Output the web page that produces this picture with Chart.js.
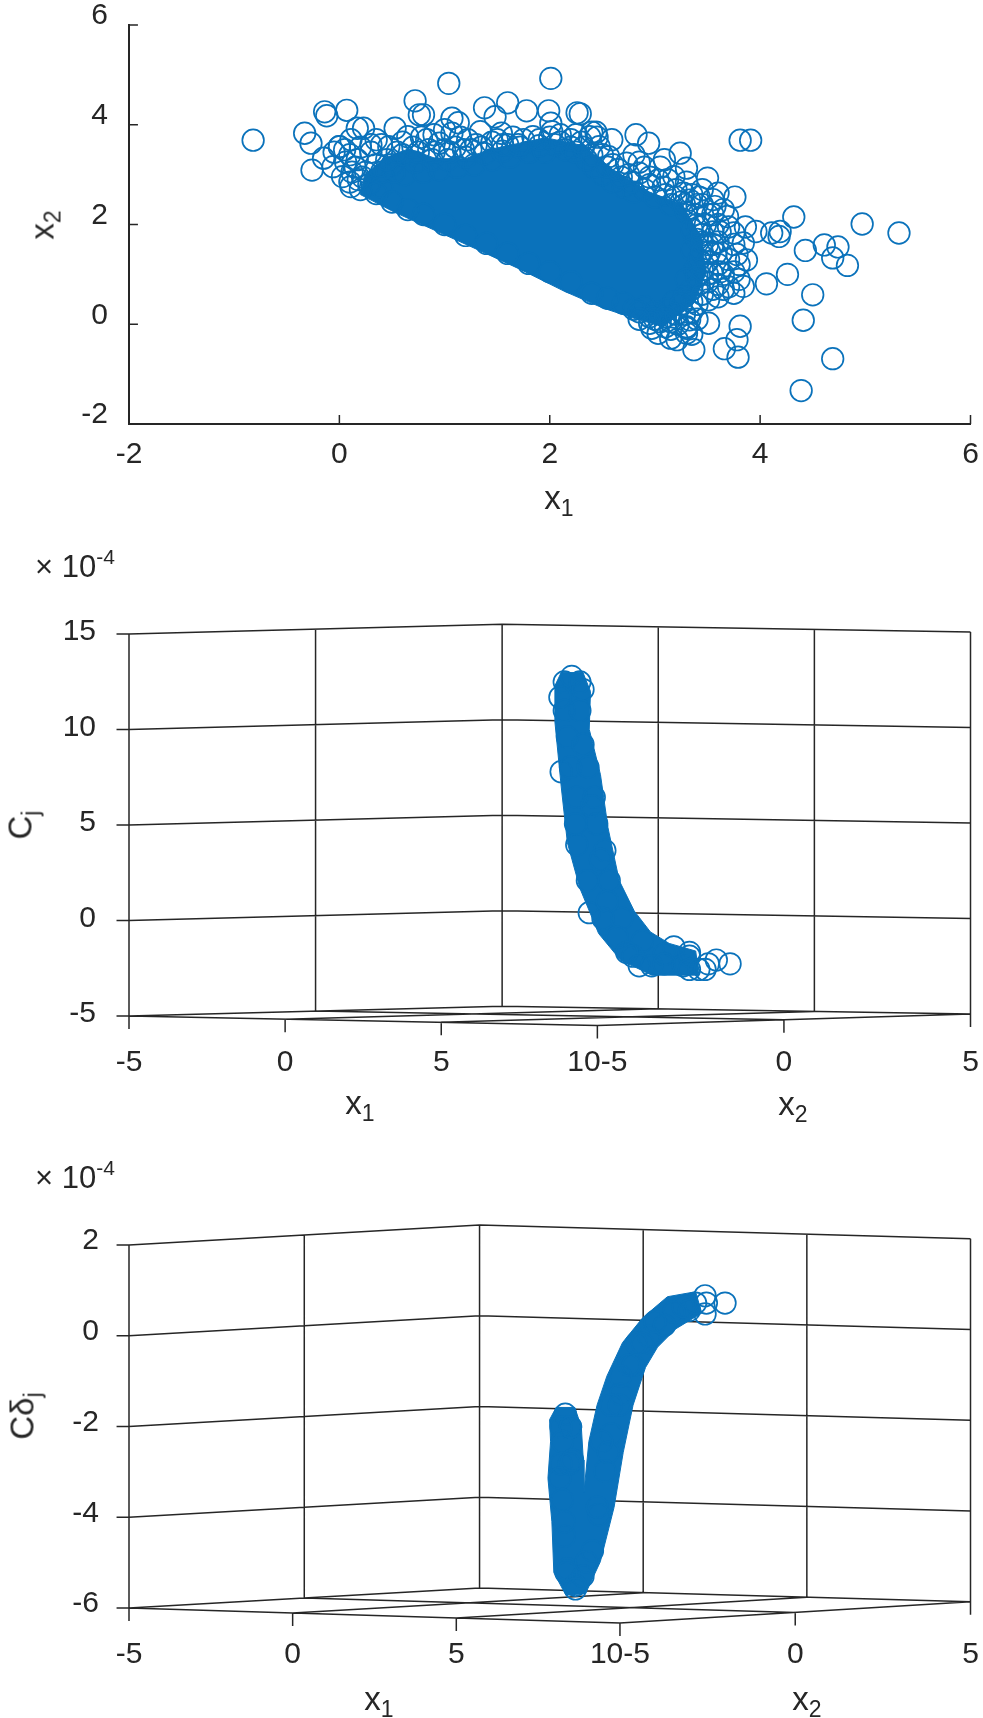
<!DOCTYPE html>
<html><head><meta charset="utf-8">
<style>
html,body{margin:0;padding:0;background:#fff;width:983px;height:1718px;overflow:hidden}
canvas{position:absolute;left:0}
.t{position:absolute;font:33px "Liberation Sans",Arial,sans-serif;color:#262626;white-space:nowrap;line-height:1;transform:translate(-50%,-50%)}
.t sub{font-size:23px;vertical-align:baseline;position:relative;top:7px}
.t sup{font-size:21px;vertical-align:baseline;position:relative;top:-13px}
.r{transform:translate(-50%,-50%) rotate(-90deg)}
.m{font-size:31px}
</style>
<script src="https://cdn.jsdelivr.net/npm/chart.js@4"></script>
</head><body>
<canvas id="c1"></canvas><canvas id="c2"></canvas><canvas id="c3"></canvas>
<div class="t" style="left:559px;top:497px">x<sub>1</sub></div>
<div class="t r" style="left:42px;top:225px">x<sub>2</sub></div>
<div class="t m" style="left:75px;top:566px">× 10<sup>-4</sup></div>
<div class="t" style="left:360px;top:1102px">x<sub>1</sub></div>
<div class="t" style="left:793px;top:1103px">x<sub>2</sub></div>
<div class="t r" style="left:20px;top:825px">C<sub>j</sub></div>
<div class="t m" style="left:75px;top:1177px">× 10<sup>-4</sup></div>
<div class="t" style="left:379px;top:1698px">x<sub>1</sub></div>
<div class="t" style="left:807px;top:1698px">x<sub>2</sub></div>
<div class="t r" style="left:22px;top:1416px">Cδ<sub>j</sub></div>
<script>
// ---------- panel 1 data (x1, x2) ----------
const p1Ticks=[-2,0,2,4,6];
const p1Isolated=[[-0.82,3.69],[-0.33,3.83],[-0.27,3.63],[-0.26,3.09],[-0.14,4.26],[-0.12,4.18],[0.07,4.29],[-0.15,3.33],[0.0,3.56],[0.17,3.93],[0.23,3.93],[0.53,3.93],[0.72,4.48],[0.76,4.2],[0.8,4.2],[1.04,4.83],[1.07,4.13],[1.13,4.04],[1.38,4.34],[1.48,4.16],[1.6,4.44],[1.78,4.28],[1.99,4.28],[2.01,4.93],[2.26,4.24],[2.29,4.22],[2.01,4.03],[2.44,3.85],[2.59,3.70],[2.82,3.8],[2.94,3.63],[3.24,3.43],[3.09,3.3],[3.3,3.13],[3.5,2.93],[3.6,2.63],[3.76,2.55],[3.81,3.69],[3.91,3.69],[4.32,2.15],[4.97,2.01],[5.32,1.83],[4.19,1.86],[4.18,1.76],[3.96,1.86],[4.11,1.83],[3.86,1.95],[4.43,1.48],[4.61,1.59],[4.74,1.55],[4.69,1.33],[4.83,1.18],[4.26,1.0],[4.06,0.81],[4.5,0.59],[3.84,0.76],[4.41,0.08],[4.69,-0.69],[4.39,-1.33],[3.81,-0.04],[3.78,-0.31],[3.66,-0.49],[3.79,-0.66],[3.37,-0.51],[3.51,0.02],[3.3,-0.08]];
const p1Fringe=[[0.0,3.56],[0.11,3.70],[0.35,3.70],[0.17,3.30],[-0.06,3.16],[0.03,2.96],[0.11,2.76],[0.47,3.56],[0.65,3.76],[0.83,3.70],[0.95,3.63],[1.07,3.83],[1.22,3.70],[1.34,3.86],[1.54,3.83],[1.84,3.76],[2.02,3.86],[2.20,3.70],[2.38,3.76],[2.47,3.56],[2.56,3.36],[2.73,3.23],[2.85,3.03],[3.03,2.89],[3.18,2.96],[3.27,2.63],[3.33,2.49],[3.57,2.36],[3.69,2.16],[3.75,1.83],[3.84,1.63],[3.87,1.29],[3.63,1.43],[3.54,1.03],[3.75,0.62],[3.51,0.49],[3.33,0.09],
[0.1,2.85],[0.2,2.7],[0.35,2.62],[0.5,2.45],[0.65,2.3],[0.8,2.2],[1.0,2.0],[1.2,1.78],[1.4,1.62],[1.6,1.42],[1.8,1.22],[2.0,1.05],[2.2,0.85],[2.4,0.62],[2.55,0.52],[2.7,0.42],[2.85,0.25],[3.0,0.1],[3.15,-0.1],[2.97,-0.08],[3.03,-0.18],[3.15,-0.28],[3.21,-0.31],[3.3,-0.18],
[0.1,3.4],[0.2,3.55],[0.3,3.45],[0.35,3.2],[0.25,3.05],[0.18,2.9],[0.4,3.6],[0.45,3.3],[0.55,3.45],[0.6,3.65],[0.7,3.55],[0.78,3.75],[0.85,3.5],[0.9,3.8],[1.0,3.5],[1.0,3.9],[1.1,3.55],[1.15,3.75],[1.3,3.6],[1.25,3.5],[1.45,3.65],[1.5,3.7],[1.55,3.6],[1.65,3.75],[1.7,3.6],[0.06,3.25],[0.12,3.05],[-0.05,3.45],[0.05,3.5],
[1.9,3.7],[2.0,3.75],[2.1,3.8],[2.25,3.8],[2.3,3.65],[2.4,3.85],[2.45,3.75],[2.5,3.4],[2.55,3.15],[2.65,3.1],[2.75,3.0],[2.8,3.4],[2.85,3.25],[2.9,3.15],[2.95,2.95],[3.05,3.15],[3.12,2.9],[3.2,2.7],[3.3,2.85],[3.35,2.6],[3.4,2.4],[3.45,2.7],[3.5,2.2],[3.55,2.5],[3.6,2.0],[3.65,2.3],
[3.4,2.0],[3.45,1.8],[3.5,1.6],[3.55,1.85],[3.6,1.65],[3.7,1.95],[3.75,1.6],[3.78,1.4],[3.8,1.2],[3.7,1.3],[3.6,1.2],[3.5,1.25],[3.45,1.45],[3.65,1.0],[3.75,1.05],[3.8,0.9],[3.7,0.75],[3.6,0.8],[3.5,0.85],[3.45,1.1],[3.4,0.95],[3.6,0.55],[3.65,0.7],[3.45,0.6],[3.4,0.4],[3.35,0.25],[3.25,0.4],[3.2,0.2],[3.15,0.05],[3.1,0.15],[3.05,0.05],[2.95,0.02],[2.85,0.1],[3.4,0.1],[3.3,-0.05],[3.35,-0.2]];
const p1Dense=[[0.4,3.05],[0.5,3.2],[0.62,3.0],[0.72,3.25],[0.8,3.05],[0.88,3.3],[0.95,3.1],[1.03,3.3],[1.12,3.15],[1.2,3.35],[1.28,3.2],[1.38,3.42],[1.45,3.3],[1.55,3.47],[1.62,3.35],[1.72,3.55],[1.8,3.45],[1.9,3.58],[2.05,3.6],[2.15,3.5],[2.25,3.45],[2.35,3.3],[2.42,3.15],[2.5,3.0],[2.6,2.85],[2.7,2.75],[2.8,2.65],[2.9,2.7],[3.0,2.55],[3.1,2.6],[3.15,2.4],[3.25,2.45],[3.3,2.25],[3.38,2.2],[3.42,2.55],[3.35,1.9],[3.4,1.7],[3.35,1.5],[3.42,1.3],[3.38,1.1],[3.3,0.9],[3.35,0.7],[3.28,0.55],[3.18,0.45],[3.12,0.3],[3.0,0.25],[2.9,0.35],[3.48,2.0],[3.52,1.45],[3.58,1.42],
[0.22,2.95],[0.28,2.8],[0.4,2.75],[0.15,3.15],[0.3,3.6],[0.52,3.05],[0.6,3.4],[0.75,3.45],[0.9,3.45],[1.05,3.45],[1.18,3.5],[1.35,3.55],[1.6,3.6],[1.75,3.7],[1.95,3.45],[2.1,3.65],[2.2,3.55],[2.32,3.55],[2.4,3.4],[2.6,3.2],[2.68,2.95],[2.78,2.85],[2.95,2.8],[3.08,2.75],[3.2,2.55],[3.28,2.4],[3.45,2.4],[3.55,2.2],[3.62,1.85],[3.55,1.6],[3.45,1.65],[3.42,1.95],[3.62,1.05],[3.55,0.7],[3.5,1.0],[3.42,0.8],[3.35,0.45],[3.28,0.2],[3.22,0.0],[3.1,-0.05],[2.95,0.15],[2.8,0.3]];
const p1Core=[[0.2,2.6],[0.24,3.0],[0.42,3.32],[0.66,3.52],[0.92,3.32],[1.2,3.32],[1.42,3.5],[1.96,3.74],[2.32,3.58],[2.6,3.1],[2.95,2.65],[3.26,2.4],[3.45,1.7],[3.48,1.0],[3.38,0.45],[3.08,-0.05],[2.8,0.12],[2.5,0.33],[2.14,0.66],[1.72,1.1],[1.31,1.5],[0.89,1.9],[0.53,2.24]];

// ---------- panel 2 data (projected position along the axis row, Cj x 1e4) ----------
const p2Rings=[[9.18,12.78],[8.94,12.49],[9.44,12.49],[8.80,11.69],[9.54,12.09],[8.94,11.0],[9.44,11.0],[9.04,9.61],[9.54,9.22],[8.84,7.79],[9.14,8.03],[9.70,8.03],[9.34,6.45],[9.90,6.45],[9.30,5.06],[9.98,5.06],[9.34,3.97],[10.24,3.67],[9.68,2.09],[10.38,2.09],[9.74,0.41],[10.18,0.11],[10.78,0.11],[10.64,-0.88],[11.44,-1.08],[11.14,-1.87],[12.14,-1.77],[11.74,-2.37],[12.75,-2.37],[12.95,-1.87],[13.45,-2.56],[13.55,-2.27],[13.81,-2.07],[14.25,-2.27],[12.45,-1.38],[12.95,-1.67],[12.14,-2.27],[10.94,-1.67],[11.34,-2.37],[12.95,-2.56],[13.25,-2.56],[10.32,1.0],[10.1,3.2],[9.82,6.0]];
const p2Core=[[8.64,12.29],[8.84,12.98],[9.54,12.98],[9.78,11.99],[9.74,10.01],[10.10,7.63],[10.34,4.86],[10.70,2.09],[11.18,0.50],[11.7,-0.6],[12.3,-1.2],[13.15,-1.6],[13.25,-2.86],[11.74,-2.86],[10.74,-2.07],[10.04,-0.68],[9.44,1.69],[9.04,4.07],[8.84,7.04],[8.64,10.41]];
const p2CTicks=[-5,0,5,10,15];

// ---------- panel 3 data (projected position along the axis row, Cdj x 1e4) ----------
const p3Rings=[[12.60,0.88],[12.64,0.72],[13.21,0.72],[12.60,0.48],[12.31,0.72],[12.12,0.56],[8.33,-1.73],[8.2,-2.01],[8.49,-2.01],[8.2,-2.82],[8.45,-2.82],[8.24,-3.62],[8.30,-4.42],[8.39,-5.14],[8.64,-5.5],[8.87,-5.3],[9.16,-4.74],[9.35,-3.94],[9.54,-2.98],[9.73,-2.17],[10.02,-1.29],[10.40,-0.65],[10.88,-0.01],[11.64,0.52],[11.93,0.64],
[11.36,0.23],[10.69,-0.17],[10.27,-0.65],[9.98,-1.53],[9.64,-2.57],[9.31,-3.78],[8.97,-4.98],[11.07,0.31],[10.5,-0.17],[10.02,-0.89],[9.73,-1.53],[9.44,-2.33],[8.16,-3.14],[8.30,-4.10],[8.35,-5.22],[8.24,-2.33],[8.49,-2.01],[8.55,-2.74],[8.64,-5.58]];
const p3Core=[[7.85,-1.85],[8.05,-1.58],[8.62,-1.58],[8.82,-2.01],[8.88,-2.74],[8.9,-3.45],[9.05,-2.33],[9.3,-1.53],[9.6,-0.89],[10.08,-0.15],[10.7,0.4],[11.45,0.86],[12.31,0.97],[12.5,0.5],[11.7,0.15],[11.15,-0.25],[10.78,-0.7],[10.4,-1.53],[10.1,-2.57],[9.82,-3.78],[9.4,-4.98],[8.95,-5.68],[8.35,-5.72],[7.98,-5.22],[7.92,-4.10],[7.8,-3.14],[7.88,-2.33]];
const p3CTicks=[-6,-4,-2,0,2];

// ---------- shared 3D axis tick values ----------
const x1Ticks=[-5,0,5,10];
const x2Ticks=[-5,0,5];
const rowLabels=['-5','0','5','10-5','0','5'];

const BLUE='#0a72bb', INK='#262626', FONT='"Liberation Sans",Arial,sans-serif';
const pts=a=>a.map(p=>({x:p[0],y:p[1]}));

function rings(list,r){return{type:'scatter',data:pts(list),showLine:false,pointRadius:r,pointBorderWidth:1.7,
  pointBorderColor:BLUE,pointBackgroundColor:'rgba(0,0,0,0)',clip:false,order:1};}
function core(list){const c=list.concat([list[0]]);return{type:'scatter',data:pts(c),showLine:true,fill:'shape',
  backgroundColor:BLUE,borderColor:BLUE,borderWidth:1,pointRadius:0,tension:0,clip:false,order:2};}
function segs(list,w){const d=[];list.forEach(s=>{d.push({x:s[0],y:s[1]},{x:s[2],y:s[3]},{x:NaN,y:NaN});});
  return{type:'scatter',data:d,showLine:true,spanGaps:false,borderColor:INK,borderWidth:w||1.5,pointRadius:0,clip:false,order:3};}

function fix(canvasId,top,height,area,xOpts,yOpts,datasets,xmin,xmax,ymin,ymax){
  const cv=document.getElementById(canvasId);cv.style.top=top+'px';
  return new Chart(cv,{type:'scatter',data:{datasets},options:{
    responsive:false,animation:false,events:[],devicePixelRatio:1,
    layout:{padding:{left:0,right:983-area.r,top:area.t-top,bottom:0}},
    plugins:{legend:{display:false},tooltip:{enabled:false}},
    scales:{
      x:Object.assign({type:'linear',min:xmin,max:xmax,
        grid:{display:false,drawTicks:false},
        afterFit(s){s.height=top+height-area.b;s.paddingLeft=s.paddingRight=s.paddingTop=s.paddingBottom=0;}},xOpts),
      y:Object.assign({type:'linear',min:ymin,max:ymax,
        grid:{display:false,drawTicks:false},
        afterFit(s){s.width=area.l;s.paddingLeft=s.paddingRight=s.paddingTop=s.paddingBottom=0;}},yOpts)
    }}});
}
function setSize(id,h){const c=document.getElementById(id);c.width=983;c.height=h;c.style.width='983px';c.style.height=h+'px';}

// ---------- panel 1 ----------
setSize('c1',520);
const p1TickSegs=[];
p1Ticks.forEach(t=>{p1TickSegs.push([t,-2,t,-1.82]);p1TickSegs.push([-2,t,-1.915,t]);});
fix('c1',0,520,{l:129,r:974,t:25,b:424},
 {border:{display:true,color:INK,width:2},afterBuildTicks(s){s.ticks=p1Ticks.map(v=>({value:v}));},
  ticks:{font:{family:FONT,size:30},color:INK,padding:13,maxRotation:0,autoSkip:false}},
 {border:{display:true,color:INK,width:2},afterBuildTicks(s){s.ticks=p1Ticks.map(v=>({value:v}));},
  ticks:{font:{family:FONT,size:30},color:INK,padding:21,labelOffset:-9}},
 [rings(p1Isolated,10.8),rings(p1Fringe,10.8),rings(p1Dense,10.8),core(p1Core),segs(p1TickSegs,1.5)],-2,6,-2,6);

// ---------- 3D panels ----------
function panel3D(id,top,height,area,P,cTicks,ringList,coreList,xPad,yOff,yPad){
  setSize(id,height);
  const cMin=cTicks[0],cMax=cTicks[cTicks.length-1];
  const a=x=>(x+5)/15,b=y=>(y+5)/10;
  const prj=(x1,x2,c)=>{const A=a(x1),B=b(x2);
    return[-5+A*(P.uFront+5)+B*(P.uBack+5),
      c+A*(1-B)*P.dvFront+(1-A)*B*P.dvBack+A*B*P.dvRight];};
  const L=[];
  const line=(p,q)=>L.push([p[0],p[1],q[0],q[1]]);
  x2Ticks.forEach(t=>line(prj(-5,t,cMin),prj(-5,t,cMax)));
  x1Ticks.forEach(t=>line(prj(t,5,cMin),prj(t,5,cMax)));
  cTicks.forEach(c=>{line(prj(-5,-5,c),prj(-5,5,c));line(prj(-5,5,c),prj(10,5,c));
    L.push([-5-P.yTick,c,-5,c]);});
  x1Ticks.forEach(t=>{line(prj(t,5,cMin),prj(t,-5,cMin));
    const e=prj(t,-5,cMin);L.push([e[0],e[1],e[0],e[1]-P.xTick]);});
  x2Ticks.forEach(t=>{line(prj(-5,t,cMin),prj(10,t,cMin));
    const e=prj(10,t,cMin);L.push([e[0],e[1],e[0],e[1]-P.xTick]);});
  const rowVals=x1Ticks.map(t=>prj(t,-5,cMin)[0]).concat(x2Ticks.slice(1).map(t=>prj(10,t,cMin)[0]));
  fix(id,top,height,area,
   {border:{display:false},afterBuildTicks(s){s.ticks=rowVals.map(v=>({value:v}));},
    ticks:{font:{family:FONT,size:30},color:INK,padding:xPad,maxRotation:0,autoSkip:false,
      callback:(v,i)=>rowLabels[i]}},
   {border:{display:false},afterBuildTicks(s){s.ticks=cTicks.map(v=>({value:v}));},
    ticks:{font:{family:FONT,size:30},color:INK,padding:yPad,labelOffset:yOff}},
   [rings(ringList,10.8),core(coreList),segs(L,1.5)],
   -5,prj(10,5,cMin)[0],cMin,cMax);
}
panel3D('c2',520,610,{l:129,r:974,t:634,b:1016},
  {uFront:10,uBack:6.95,dvFront:-0.495,dvBack:0.515,dvRight:0.1,yTick:0.4,xTick:0.68},
  p2CTicks,p2Rings,p2Core,29,-2,33);
panel3D('c3',1130,588,{l:129,r:974,t:1245,b:1608},
  {uFront:10,uBack:5.71,dvFront:-0.33,dvBack:0.44,dvRight:0.136,yTick:0.38,xTick:0.286},
  p3CTicks,p3Rings,p3Core,29,-4,30);
</script>
</body></html>
